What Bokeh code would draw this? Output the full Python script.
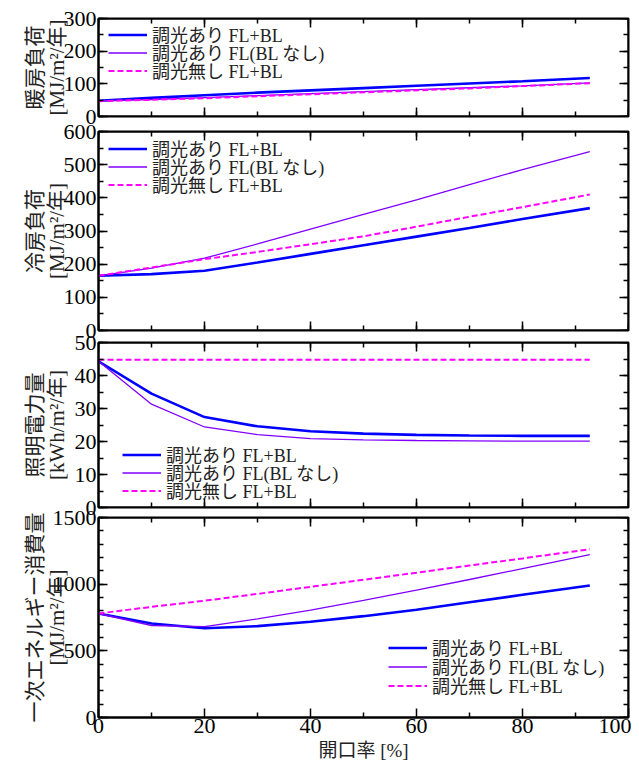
from bokeh.plotting import figure
from bokeh.models import (Range1d, LinearAxis, SingleIntervalTicker, Legend, LegendItem,
                          Label, CustomLabelingPolicy, FixedTicker)
from bokeh.layouts import column
from bokeh.embed import file_html
from bokeh.resources import INLINE

# ---------------- data ----------------
opening = [0, 10, 20, 30, 40, 50, 60, 70, 80, 92.7]

series_names = ["調光あり FL+BL", "調光あり FL(BL なし)", "調光無し FL+BL"]

heat_dim_flbl = [48, 57, 65, 73, 80, 87, 94, 101, 108, 118]
heat_dim_fl = [48, 52, 58, 64, 70, 76, 82, 88, 94, 103]
heat_nodim = [47, 51, 56, 62, 68, 74, 80, 86, 93, 102]

cool_dim_flbl = [165, 170, 180, 205, 231, 257, 283, 309, 336, 369]
cool_dim_fl = [165, 188, 218, 261, 306, 350, 394, 440, 485, 539]
cool_nodim = [165, 190, 215, 237, 260, 284, 313, 343, 372, 410]

light_dim_flbl = [44.3, 34.5, 27.4, 24.6, 23.1, 22.4, 22.0, 21.8, 21.7, 21.7]
light_dim_fl = [44.3, 31.3, 24.4, 22.1, 20.9, 20.5, 20.3, 20.2, 20.1, 20.1]
light_nodim = [44.8, 44.8, 44.8, 44.8, 44.8, 44.8, 44.8, 44.8, 44.8, 44.8]

energy_dim_flbl = [780, 705, 669, 685, 718, 760, 808, 864, 920, 990]
energy_dim_fl = [780, 690, 682, 740, 805, 878, 955, 1035, 1117, 1222]
energy_nodim = [780, 830, 876, 927, 980, 1033, 1086, 1140, 1193, 1262]

x_tick_values = [0, 20, 40, 60, 80, 100]
x_tick_labels = ["0", "20", "40", "60", "80", "100"]
x_title = "開口率 [%]"

y_titles = ["暖房負荷\n[MJ/m²/年]", "冷房負荷\n[MJ/m²/年]",
            "照明電力量\n[kWh/m²/年]", "一次エネルギー消費量\n[MJ/m²/年]"]

# ---------------- style ----------------
FONT = "'Liberation Serif', 'Noto Sans CJK JP', serif"
C_BLUE = "#0000ff"
C_PURPLE = "#8000ff"
C_MAGENTA = "#ff00ff"
FIG_W = 631


def style_axis(ax, labels=True):
    ax.axis_line_width = 2
    ax.axis_line_color = "black"
    ax.major_tick_in = 9
    ax.major_tick_out = 0
    ax.minor_tick_in = 5
    ax.minor_tick_out = 0
    ax.major_tick_line_width = 1.5
    ax.minor_tick_line_width = 1.5
    if labels:
        ax.major_label_text_font = FONT
        ax.major_label_text_font_size = "22px"
        ax.major_label_text_color = "black"
        ax.major_label_standoff = 2
    else:
        ax.major_label_policy = CustomLabelingPolicy(
            code="for (const i of indices) indices.unset(i)")
        ax.major_label_text_font_size = "1px"
        ax.major_label_standoff = 0


def make_legend(p, renderer, label, vx, vy):
    lg = Legend(items=[LegendItem(label=label, renderers=[renderer])],
                location=(vx, vy))
    lg.background_fill_alpha = 0
    lg.border_line_alpha = 0
    lg.padding = 0
    lg.margin = 0
    lg.glyph_width = 39
    lg.glyph_height = 17
    lg.label_height = 17
    lg.label_standoff = 5
    lg.label_text_font = FONT
    lg.label_text_font_size = "18px"
    lg.label_text_color = "#222222"
    p.add_layout(lg, "center")


def make_panel(ys, ymax, ymajor, nminor, height, btop, bbottom, ytitle,
               legend_x, legend_ys, shift, x_labels=False):
    p = figure(width=FIG_W, height=height, x_range=Range1d(0, 100),
               y_range=Range1d(0, ymax), output_backend="svg",
               toolbar_location=None, x_axis_location=None, y_axis_location=None,
               min_border_left=98, min_border_right=3,
               min_border_top=btop, min_border_bottom=bbottom,
               styles={"margin-top": f"{shift}px"})
    p.xgrid.visible = False
    p.ygrid.visible = False
    p.outline_line_color = "black"
    p.outline_line_width = 2
    p.background_fill_color = "white"
    p.border_fill_alpha = 0

    yt = SingleIntervalTicker(interval=ymajor, num_minor_ticks=nminor)
    xt = SingleIntervalTicker(interval=20, num_minor_ticks=2)

    left = LinearAxis(ticker=yt, axis_label=ytitle)
    style_axis(left)
    left.axis_label_text_font = FONT
    left.axis_label_text_font_size = "21px"
    left.axis_label_text_font_style = "normal"
    left.axis_label_text_color = "#222222"
    left.axis_label_text_line_height = 0.9
    p.add_layout(left, "left")

    right = LinearAxis(ticker=yt, fixed_location=100)
    style_axis(right, labels=False)
    p.add_layout(right, "right")

    top = LinearAxis(ticker=xt, fixed_location=ymax)
    style_axis(top, labels=False)
    p.add_layout(top, "above")

    if x_labels:
        bottom = LinearAxis(ticker=FixedTicker(ticks=x_tick_values,
                                               minor_ticks=[10, 30, 50, 70, 90]),
                            major_label_overrides=dict(zip(x_tick_values, x_tick_labels)))
        style_axis(bottom)
        bottom.major_label_standoff = 1
        bottom.major_label_text_align = "right"
    else:
        bottom = LinearAxis(ticker=xt, fixed_location=0)
        style_axis(bottom, labels=False)
    p.add_layout(bottom, "below")

    r1 = p.line(opening, ys[0], line_color=C_BLUE, line_width=2.6)
    r2 = p.line(opening, ys[1], line_color=C_PURPLE, line_width=1.3)
    r3 = p.line(opening, ys[2], line_color=C_MAGENTA, line_width=2, line_dash="6 3")

    for r, name, vy in zip([r1, r2, r3], series_names, legend_ys):
        make_legend(p, r, name, legend_x, vy)
    return p, left


# frames (page px): p1 18-116, p2 131-330, p3 342-507, p4 517-717
p1, a1 = make_panel([heat_dim_flbl, heat_dim_fl, heat_nodim], 300, 100, 2,
                    132, 18, 16, y_titles[0], 10, (69, 51, 33), 0)
p2, a2 = make_panel([cool_dim_flbl, cool_dim_fl, cool_nodim], 600, 100, 2,
                    235, 20, 16, y_titles[1], 10, (169, 151, 133), -21)
p3, a3 = make_panel([light_dim_flbl, light_dim_fl, light_nodim], 50, 10, 2,
                    201, 20, 16, y_titles[2], 24, (40, 22, 4), -24)
p4, a4 = make_panel([energy_dim_flbl, energy_dim_fl, energy_nodim], 1500, 500, 5,
                    263, 20, 43, y_titles[3], 290, (57, 38, 19), -26, x_labels=True)

a1.axis_label_standoff = -8
a2.axis_label_standoff = -8
a3.axis_label_standoff = 3
a4.axis_label_standoff = -19

# ---- thin strip over the bottom of the last panel holding the x title ----
p5 = figure(width=FIG_W, height=24, x_range=Range1d(0, 100), y_range=Range1d(0, 1),
            output_backend="svg", toolbar_location=None,
            x_axis_location=None, y_axis_location=None,
            min_border_left=98, min_border_right=3, min_border_top=0, min_border_bottom=0,
            styles={"margin-top": "-24px"})
p5.xgrid.visible = False
p5.ygrid.visible = False
p5.outline_line_alpha = 0
p5.background_fill_alpha = 0
p5.border_fill_alpha = 0
p5.add_layout(Label(x=50, y=1, y_offset=-3, text=x_title,
                    text_align="center", text_baseline="top", text_font=FONT,
                    text_font_size="19px", text_color="#222222"))

layout = column(p1, p2, p3, p4, p5, spacing=0)

with open("out.html", "w") as f:
    f.write(file_html(layout, INLINE))
